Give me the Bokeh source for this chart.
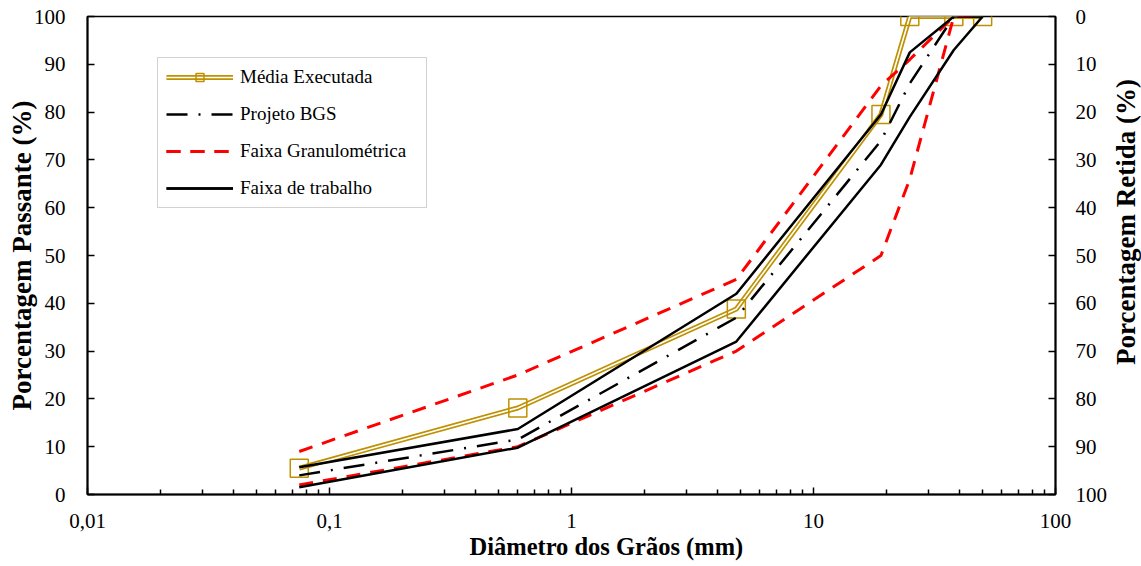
import math
from bokeh.plotting import figure
from bokeh.layouts import row
from bokeh.models import Range1d, LinearAxis, FixedTicker, Legend, LegendItem, Title
from bokeh.core.properties import value
from bokeh.embed import file_html
from bokeh.resources import INLINE

# ---- data ----
sizes = [0.075, 0.6, 4.8, 19, 25, 38, 50]          # sieve openings (mm)
media_executada = [5.5, 18.1, 38.8, 79.5, 100, 100, 100]
projeto_bgs = [4.0, 11.5, 37.0, 74.0, 86.0, 100, 100]
faixa_gran_sup = [9.0, 25.0, 45.0, 85.5, 91.0, 100, 100]
faixa_gran_inf = [2.0, 10.0, 30.0, 50.0, 66.0, 100, 100]
faixa_trab_sup = [5.7, 13.7, 42.0, 79.5, 92.5, 100, 100]
faixa_trab_inf = [1.5, 9.8, 32.0, 69.0, 79.0, 93.0, 100]

x_ticks = [0.01, 0.1, 1, 10, 100]
x_tick_labels = ["0,01", "0,1", "1", "10", "100"]
y_ticks = [0, 10, 20, 30, 40, 50, 60, 70, 80, 90, 100]
right_title = ["Porcentagem Retida (%)"]

GOLD = "#BF9000"
RED = "#FF0000"
FONT = "Liberation Serif"

p = figure(width=1110, height=566, x_axis_type="log",
           x_range=Range1d(0.01, 100), y_range=Range1d(0, 100),
           output_backend="svg", toolbar_location=None,
           min_border_left=87, min_border_right=54,
           min_border_top=16, min_border_bottom=72)
p.xgrid.visible = False
p.ygrid.visible = False
p.outline_line_color = "black"
p.outline_line_width = 1.5
p.background_fill_color = "white"
p.border_fill_color = "white"

# series
r_m1 = p.line(sizes, media_executada, line_color=GOLD, line_width=5)
r_m2 = p.line(sizes, media_executada, line_color="white", line_width=1.6)
r_m3 = p.scatter(sizes, media_executada, marker="square", size=18,
                 fill_color=None, line_color=GOLD, line_width=1.5)
r_p = p.line(sizes, projeto_bgs, line_color="black", line_width=2.5,
             line_dash="21 11 2 11")
r_f1 = p.line(sizes, faixa_gran_sup, line_color=RED, line_width=3, line_dash="14 10")
r_f2 = p.line(sizes, faixa_gran_inf, line_color=RED, line_width=3, line_dash="14 10")
r_t1 = p.line(sizes, faixa_trab_sup, line_color="black", line_width=2.5)
r_t2 = p.line(sizes, faixa_trab_inf, line_color="black", line_width=2.5)

# x axis
minor = [m * 10 ** e for e in range(-2, 2) for m in range(2, 10)]
xa = p.xaxis[0]
xa.ticker = FixedTicker(ticks=x_ticks, minor_ticks=minor)
xa.major_label_overrides = dict(zip(x_ticks, x_tick_labels))

# left y axis
ya = p.yaxis[0]
ya.ticker = FixedTicker(ticks=y_ticks)
ya.axis_label = "Porcentagem Passante (%)"

# right y axis (percent retained)
p.extra_y_ranges = {"ret": Range1d(100, 0)}
ra = LinearAxis(y_range_name="ret", ticker=FixedTicker(ticks=y_ticks))
p.add_layout(ra, "right")

for ax in [xa, ya, ra]:
    ax.axis_line_color = "black"
    ax.axis_line_width = 2
    ax.major_tick_in = 7
    ax.major_tick_out = 0
    ax.major_tick_line_width = 1.5
    ax.minor_tick_in = 5
    ax.minor_tick_out = 0
    ax.minor_tick_line_width = 1.5
    ax.major_label_text_font = FONT
    ax.major_label_text_font_size = "21px"
    ax.major_label_text_color = "black"
    ax.axis_label_text_font = FONT
    ax.axis_label_text_font_size = "27px"
    ax.axis_label_text_font_style = "bold"
    ax.axis_label_text_color = "black"

xa.major_label_standoff = 19
ya.major_label_standoff = 22
ya.axis_label_standoff = -6
ya.minor_tick_in = 0
ra.major_label_standoff = 20
ra.minor_tick_in = 0

# x axis title (offset to the right as in the original)
p.add_layout(Title(text="Diâmetro dos Grãos (mm)", align="left", offset=382,
                   standoff=0, text_font=FONT, text_font_size="24.5px",
                   text_font_style="bold", text_color="black"), "below")

legend = Legend(items=[
    LegendItem(label="Média Executada", renderers=[r_m1, r_m2, r_m3]),
    LegendItem(label="Projeto BGS", renderers=[r_p]),
    LegendItem(label="Faixa Granulométrica", renderers=[r_f1, r_f2]),
    LegendItem(label="Faixa de trabalho", renderers=[r_t1, r_t2]),
], location=(70, 286))
legend.label_text_font = FONT
legend.label_text_font_size = "19px"
legend.label_text_color = "black"
legend.glyph_width = 67
legend.glyph_height = 20
legend.label_height = 20
legend.spacing = 15
legend.padding = 8
legend.margin = 0
legend.label_standoff = 7
legend.label_width = 178
legend.border_line_color = "#A6A6A6"
legend.border_line_width = 1.5
legend.background_fill_color = "white"
legend.background_fill_alpha = 1.0
p.add_layout(legend)

# narrow strip holding the right-hand axis title, reading bottom-to-top
p2 = figure(width=31, height=566, x_range=Range1d(-1, 1), y_range=Range1d(-1, 1),
            output_backend="svg", toolbar_location=None,
            x_axis_location=None, y_axis_location=None,
            min_border_left=0, min_border_right=0,
            min_border_top=0, min_border_bottom=0)
p2.grid.visible = False
p2.outline_line_color = None
p2.background_fill_color = "white"
p2.border_fill_color = "white"
p2.text(x=[0.0], y=[0.14], text=right_title, angle=math.pi / 2,
        text_align="center", text_baseline="middle",
        text_font=value(FONT), text_font_size="27px",
        text_font_style="bold", text_color="black")

layout = row(p, p2, spacing=0)
open("out.html", "w").write(file_html(layout, INLINE))
